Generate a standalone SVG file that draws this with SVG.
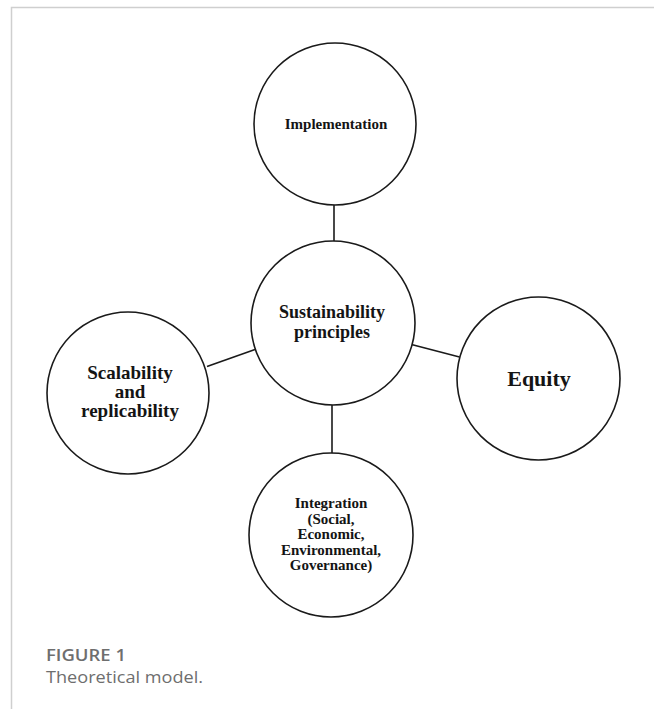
<svg xmlns="http://www.w3.org/2000/svg" width="654" height="709" viewBox="0 0 654 709">
<style>
.node circle{fill:#fff;stroke:#1a1a1a;stroke-width:1.6}
.lbl{font-family:"Liberation Serif","Times New Roman",serif;font-weight:bold;fill:#141414;text-anchor:middle}
.conn line{stroke:#1a1a1a;stroke-width:1.6}
.frame{stroke:#cfcfcf;stroke-width:1.5;fill:none}
.cap{font-family:"Open Sans","Liberation Sans",sans-serif;fill:#6e6e6e}
</style>
<rect width="654" height="709" fill="#fff"/>
<path class="frame" d="M11.5 709 V7.5 H654"/>
<g id="connectors" class="conn">
<line x1="334" y1="205" x2="334" y2="241"/>
<line x1="207" y1="366.5" x2="255" y2="349.5"/>
<line x1="411.5" y1="344.5" x2="459.5" y2="357"/>
<line x1="332" y1="405" x2="332" y2="453"/>
</g>
<g id="implementation" class="node">
<circle cx="335" cy="124" r="81"/>
<text class="lbl" x="336" y="129" font-size="15">Implementation</text>
</g>
<g id="sustainability" class="node">
<circle cx="333" cy="323" r="82"/>
<text class="lbl" x="332" y="318" font-size="18">Sustainability</text>
<text class="lbl" x="332" y="337.5" font-size="18">principles</text>
</g>
<g id="scalability" class="node">
<circle cx="128" cy="393" r="81"/>
<text class="lbl" x="130" y="379" font-size="19">Scalability</text>
<text class="lbl" x="130" y="398" font-size="19">and</text>
<text class="lbl" x="130" y="417" font-size="19">replicability</text>
</g>
<g id="equity" class="node">
<circle cx="538.5" cy="378.5" r="81.5"/>
<text class="lbl" x="539" y="386" font-size="22">Equity</text>
</g>
<g id="integration" class="node">
<circle cx="331" cy="535" r="82"/>
<text class="lbl" x="331" y="508" font-size="15">Integration</text>
<text class="lbl" x="331" y="523.5" font-size="15">(Social,</text>
<text class="lbl" x="331" y="539" font-size="15">Economic,</text>
<text class="lbl" x="331" y="554.5" font-size="15">Environmental,</text>
<text class="lbl" x="331" y="570" font-size="15">Governance)</text>
</g>
<text class="cap" x="46" y="661" font-size="17" font-weight="600" textLength="80" lengthAdjust="spacingAndGlyphs">FIGURE 1</text>
<text class="cap" x="46" y="683" font-size="17" textLength="157" lengthAdjust="spacingAndGlyphs">Theoretical model.</text>
</svg>
